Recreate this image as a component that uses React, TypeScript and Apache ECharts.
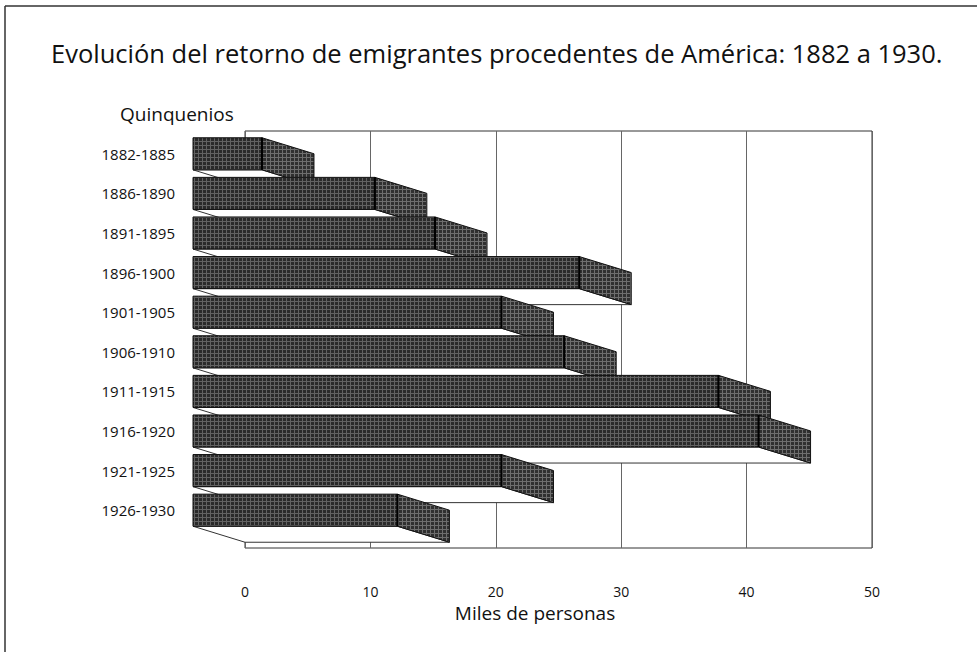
import React, { useEffect, useRef } from "react";
import * as echarts from "echarts";

const categories = [
  "1882-1885",
  "1886-1890",
  "1891-1895",
  "1896-1900",
  "1901-1905",
  "1906-1910",
  "1911-1915",
  "1916-1920",
  "1921-1925",
  "1926-1930",
];
const values = [5.5, 14.5, 19.3, 30.8, 24.6, 29.6, 41.9, 45.1, 24.6, 16.3];
const xTicks = [0, 10, 20, 30, 40, 50];

const titleText = "Evolución del retorno de emigrantes procedentes de América: 1882 a 1930.";
const yName = "Quinquenios";
const xName = "Miles de personas";

function makePattern(base: string, line: string): string {
  const c = document.createElement("canvas");
  c.width = 4;
  c.height = 4;
  const ctx = c.getContext("2d");
  if (!ctx) return "";
  ctx.fillStyle = base;
  ctx.fillRect(0, 0, 4, 4);
  ctx.fillStyle = line;
  ctx.fillRect(0, 1, 4, 1);
  ctx.fillRect(2, 0, 1, 4);
  return c.toDataURL();
}

export default function App() {
  const ref = useRef<HTMLDivElement>(null);
  useEffect(() => {
    if (!ref.current) return;
    const chart = echarts.init(ref.current, undefined, { renderer: "svg" });
    const frontImg = makePattern("#2a2a2a", "#626262");
    const sideImg = makePattern("#303030", "#6e6e6e");
    const frontFill: any = frontImg
      ? { image: frontImg, repeat: "repeat", imageWidth: 4, imageHeight: 4 }
      : "#444";
    const sideFill: any = sideImg
      ? { image: sideImg, repeat: "repeat", imageWidth: 4, imageHeight: 4 }
      : "#4a4a4a";
    const DX = 52;
    const DY = 16;
    const font = "'Open Sans', 'Noto Sans', sans-serif";

    const option: any = {
      animation: false,
      backgroundColor: "#fff",
      textStyle: { fontFamily: font },
      title: [
        {
          text: titleText,
          left: 46,
          top: 35,
          textStyle: { fontFamily: font, fontSize: 25.5, fontWeight: "normal", color: "#111" },
        },
        {
          text: yName,
          left: 115,
          top: 99,
          textStyle: { fontFamily: font, fontSize: 19, fontWeight: "normal", color: "#111" },
        },
      ],
      grid: [
        {
          left: 245,
          right: 105,
          top: 131,
          bottom: 104,
          show: true,
          borderColor: "#333",
          borderWidth: 1,
          backgroundColor: "transparent",
        },
        {
          left: 193,
          right: 157,
          top: 134,
          bottom: 122,
          show: false,
        },
      ],
      xAxis: [
        {
          type: "value",
          gridIndex: 0,
          min: xTicks[0],
          max: xTicks[xTicks.length - 1],
          interval: 10,
          position: "bottom",
          axisLine: { show: false },
          axisTick: { show: false },
          splitLine: { show: true, lineStyle: { color: "#666", width: 1 } },
          axisLabel: {
            margin: 36,
            fontSize: 14,
            color: "#111",
            fontFamily: font,
          },
          name: xName,
          nameLocation: "middle",
          nameGap: 55,
          nameTextStyle: {
            fontSize: 19,
            color: "#111",
            fontFamily: font,
            padding: [0, 47, 0, 0],
          },
        },
        {
          type: "value",
          gridIndex: 1,
          min: 0,
          max: 50,
          interval: 10,
          show: false,
        },
      ],
      yAxis: [
        {
          type: "category",
          gridIndex: 0,
          data: categories,
          show: false,
        },
        {
          type: "category",
          gridIndex: 1,
          data: categories,
          inverse: true,
          axisLine: { show: false },
          axisTick: { show: false },
          splitLine: { show: false },
          axisLabel: {
            margin: 18,
            fontSize: 15,
            color: "#111",
            fontFamily: font,
          },
        },
      ],
      graphic: [
        {
          type: "line",
          shape: { x1: 5, y1: 6, x2: 977, y2: 6 },
          style: { stroke: "#333", lineWidth: 1.5 },
        },
        {
          type: "line",
          shape: { x1: 5, y1: 6, x2: 5, y2: 652 },
          style: { stroke: "#333", lineWidth: 1.5 },
        },
      ],
      series: [
        {
          type: "custom",
          coordinateSystem: "cartesian2d",
          xAxisIndex: 1,
          yAxisIndex: 1,
          encode: { x: 1, y: 0 },
          data: values.map((v, i) => [i, v]),
          renderItem: (params: any, api: any) => {
            const idx = api.value(0);
            const val = api.value(1);
            const p0 = api.coord([0, idx]);
            const p1 = api.coord([val, idx]);
            const band = api.size([0, 1])[1];
            const h = band * 0.81;
            const x0 = p0[0];
            const x1 = p1[0];
            const yt = p0[1] - h / 2;
            const yb = p0[1] + h / 2;
            const stroke = "#111";
            return {
              type: "group",
              children: [
                {
                  type: "polygon",
                  shape: {
                    points: [
                      [x0, yb],
                      [x1, yb],
                      [x1 + DX, yb + DY],
                      [x0 + DX, yb + DY],
                    ],
                  },
                  style: { fill: "#fff", stroke: "#333", lineWidth: 1 },
                },
                {
                  type: "polygon",
                  shape: {
                    points: [
                      [x1, yt],
                      [x1 + DX, yt + DY],
                      [x1 + DX, yb + DY],
                      [x1, yb],
                    ],
                  },
                  style: { fill: sideFill, stroke: stroke, lineWidth: 1 },
                },
                {
                  type: "rect",
                  shape: { x: x0, y: yt, width: x1 - x0, height: h },
                  style: { fill: frontFill, stroke: stroke, lineWidth: 1 },
                },
                {
                  type: "line",
                  shape: { x1: x1, y1: yt, x2: x1, y2: yb },
                  style: { stroke: "#000", lineWidth: 2 },
                },
              ],
            };
          },
        },
      ],
    };
    chart.setOption(option);
    return () => chart.dispose();
  }, []);
  return (
    <div
      ref={ref}
      style={{ position: "fixed", left: 0, top: 0, width: 977, height: 652, background: "#fff" }}
    />
  );
}
